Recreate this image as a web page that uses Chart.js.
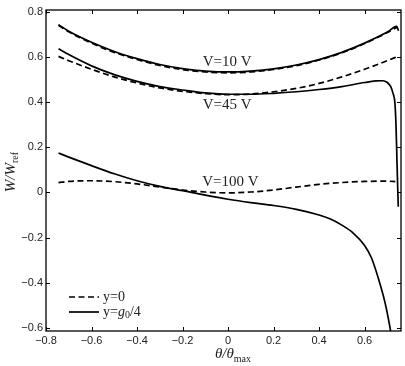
<!DOCTYPE html>
<html>
<head>
<meta charset="utf-8">
<script src="https://cdn.jsdelivr.net/npm/chart.js@4/dist/chart.umd.min.js"></script>
<style>
  html, body { margin: 0; padding: 0; background: #fff; }
  #wrap { width: 405px; height: 366px; }
</style>
</head>
<body>
<div id="wrap"><canvas id="myChart" width="405" height="366"></canvas></div>
<script>
// tick labels
const xTicks = [-0.8, -0.6, -0.4, -0.2, 0, 0.2, 0.4, 0.6];
const yTicks = [-0.6, -0.4, -0.2, 0, 0.2, 0.4, 0.6, 0.8];

// V = 10 V
const v10DashX = [-0.745, -0.7, -0.6, -0.5, -0.4, -0.3, -0.2, -0.1, 0, 0.1, 0.2, 0.3, 0.4, 0.5, 0.6, 0.7, 0.745];
const v10DashY = [0.742, 0.713, 0.663, 0.622, 0.590, 0.564, 0.545, 0.535, 0.531, 0.535, 0.546, 0.563, 0.588, 0.620, 0.661, 0.710, 0.735];
const v10SolidX = [-0.745, -0.7, -0.6, -0.5, -0.4, -0.3, -0.2, -0.1, 0, 0.1, 0.2, 0.3, 0.4, 0.5, 0.6, 0.7, 0.741, 0.749];
const v10SolidY = [0.745, 0.716, 0.667, 0.626, 0.594, 0.568, 0.550, 0.539, 0.535, 0.539, 0.549, 0.566, 0.590, 0.622, 0.663, 0.712, 0.737, 0.718];

// V = 45 V
const v45DashX = [-0.745, -0.7, -0.6, -0.5, -0.4, -0.3, -0.2, -0.1, 0, 0.1, 0.2, 0.3, 0.4, 0.5, 0.6, 0.7, 0.745];
const v45DashY = [0.604, 0.585, 0.547, 0.513, 0.486, 0.464, 0.449, 0.439, 0.434, 0.437, 0.447, 0.462, 0.484, 0.513, 0.547, 0.585, 0.604];
const v45SolidX = [-0.745, -0.7, -0.6, -0.5, -0.4, -0.3, -0.2, -0.1, 0, 0.1, 0.2, 0.3, 0.4, 0.5, 0.6, 0.65, 0.68, 0.70, 0.715, 0.725, 0.733, 0.738, 0.742, 0.745, 0.748];
const v45SolidY = [0.638, 0.612, 0.562, 0.523, 0.493, 0.470, 0.455, 0.442, 0.436, 0.436, 0.440, 0.447, 0.457, 0.470, 0.488, 0.495, 0.496, 0.488, 0.470, 0.440, 0.400, 0.300, 0.150, 0.040, -0.063];

// V = 100 V
const v100DashX = [-0.745, -0.7, -0.6, -0.5, -0.4, -0.3, -0.2, -0.1, 0, 0.1, 0.2, 0.3, 0.4, 0.5, 0.6, 0.7, 0.735];
const v100DashY = [0.044, 0.049, 0.052, 0.048, 0.038, 0.024, 0.011, 0.002, -0.002, 0.002, 0.011, 0.024, 0.036, 0.044, 0.049, 0.050, 0.048];
const v100SolidX = [-0.745, -0.7, -0.6, -0.5, -0.4, -0.3, -0.2, -0.1, 0, 0.1, 0.2, 0.3, 0.4, 0.45, 0.5, 0.55, 0.6, 0.63, 0.66, 0.69, 0.71, 0.72];
const v100SolidY = [0.175, 0.157, 0.119, 0.083, 0.052, 0.027, 0.008, -0.012, -0.030, -0.045, -0.058, -0.075, -0.100, -0.118, -0.145, -0.180, -0.235, -0.290, -0.380, -0.490, -0.590, -0.650];

const curveLabels = [
    { text: 'V=10 V', x: -0.004, y: 0.58 },
    { text: 'V=45 V', x: -0.004, y: 0.389 },
    { text: 'V=100 V', x: 0.01, y: 0.047 }
];

function pts(xs, ys) {
    return xs.map((x, i) => ({ x: x, y: ys[i] }));
}

const dash = [6, 3.5];
function line(label, xs, ys, dashed) {
    return {
        label: label,
        data: pts(xs, ys),
        borderColor: '#000',
        borderWidth: 1.7,
        borderDash: dashed ? dash : [],
        pointRadius: 0,
        fill: false,
        cubicInterpolationMode: 'monotone',
        order: dashed ? 1 : 0
    };
}

function fmt(v) {
    if (Math.abs(v) < 1e-9) return '0';
    return v.toFixed(1).replace('-', '\u2212');
}

const serif = '"Liberation Serif", "DejaVu Serif", serif';

const decor = {
    id: 'decor',
    afterDraw(chart) {
        const ctx = chart.ctx;
        const a = chart.chartArea;
        const xs = chart.scales.x, ys = chart.scales.y;
        ctx.save();
        ctx.strokeStyle = '#000';
        ctx.lineWidth = 1.3;
        ctx.strokeRect(a.left, a.top, a.right - a.left, a.bottom - a.top);
        ctx.lineWidth = 1;
        ctx.beginPath();
        xTicks.forEach(v => {
            const p = Math.round(xs.getPixelForValue(v)) + 0.5;
            ctx.moveTo(p, a.bottom); ctx.lineTo(p, a.bottom - 4);
            ctx.moveTo(p, a.top); ctx.lineTo(p, a.top + 4);
        });
        yTicks.forEach(v => {
            const p = Math.round(ys.getPixelForValue(v)) + 0.5;
            ctx.moveTo(a.left, p); ctx.lineTo(a.left + 4, p);
            ctx.moveTo(a.right, p); ctx.lineTo(a.right - 4, p);
        });
        ctx.stroke();

        // curve labels
        ctx.fillStyle = '#222';
        ctx.font = '15px ' + serif;
        ctx.textAlign = 'center';
        ctx.textBaseline = 'middle';
        curveLabels.forEach(l => {
            ctx.fillText(l.text, xs.getPixelForValue(l.x), ys.getPixelForValue(l.y));
        });

        // legend
        ctx.textAlign = 'left';
        ctx.textBaseline = 'alphabetic';
        const lx = a.left + 23, ly1 = 297, ly2 = 312;
        ctx.lineWidth = 1.7;
        ctx.setLineDash(dash);
        ctx.beginPath(); ctx.moveTo(lx, ly1); ctx.lineTo(lx + 30, ly1); ctx.stroke();
        ctx.setLineDash([]);
        ctx.beginPath(); ctx.moveTo(lx, ly2); ctx.lineTo(lx + 30, ly2); ctx.stroke();
        ctx.font = '14px ' + serif;
        ctx.fillText('y=0', lx + 34, ly1 + 4);
        let tx = lx + 34;
        ctx.fillText('y=', tx, ly2 + 4);
        tx += ctx.measureText('y=').width;
        ctx.font = 'italic 14px ' + serif;
        ctx.fillText('g', tx, ly2 + 4);
        tx += ctx.measureText('g').width;
        ctx.font = '10px ' + serif;
        ctx.fillText('0', tx, ly2 + 6);
        tx += ctx.measureText('0').width;
        ctx.font = '14px ' + serif;
        ctx.fillText('/4', tx, ly2 + 4);

        // x title
        ctx.font = 'italic 15px ' + serif;
        const t1 = '\u03b8/\u03b8';
        ctx.font = '10px ' + serif;
        const w2 = ctx.measureText('max').width;
        ctx.font = 'italic 15px ' + serif;
        const w1 = ctx.measureText(t1).width;
        let x0 = 233 - (w1 + w2) / 2;
        ctx.fillText(t1, x0, 358);
        ctx.font = '10px ' + serif;
        ctx.fillText('max', x0 + w1, 362);

        // y title
        ctx.save();
        ctx.translate(15, 172);
        ctx.rotate(-Math.PI / 2);
        ctx.font = 'italic 15px ' + serif;
        const u1 = 'W/W';
        const uw1 = ctx.measureText(u1).width;
        ctx.font = '10px ' + serif;
        const uw2 = ctx.measureText('ref').width;
        const y0 = -(uw1 + uw2) / 2;
        ctx.font = 'italic 15px ' + serif;
        ctx.fillText(u1, y0, 0);
        ctx.font = '10px ' + serif;
        ctx.fillText('ref', y0 + uw1, 3);
        ctx.restore();

        ctx.restore();
    }
};

new Chart(document.getElementById('myChart'), {
    type: 'line',
    data: {
        datasets: [
            line('V=10 dashed', v10DashX, v10DashY, true),
            line('V=45 dashed', v45DashX, v45DashY, true),
            line('V=100 dashed', v100DashX, v100DashY, true),
            line('V=10 solid', v10SolidX, v10SolidY, false),
            line('V=45 solid', v45SolidX, v45SolidY, false),
            line('V=100 solid', v100SolidX, v100SolidY, false)
        ]
    },
    options: {
        responsive: false,
        animation: false,
        layout: { padding: { top: 10, right: 4, left: 0, bottom: 0 } },
        plugins: { legend: { display: false }, tooltip: { enabled: false } },
        scales: {
            x: {
                type: 'linear',
                min: -0.8,
                max: 0.76,
                afterBuildTicks: s => { s.ticks = xTicks.map(v => ({ value: v })); },
                afterFit: s => { s.height = 35; },
                grid: { display: false, drawTicks: false },
                border: { display: false },
                ticks: {
                    callback: v => fmt(v),
                    color: '#222',
                    padding: 3,
                    maxRotation: 0,
                    font: { family: '"Liberation Sans", Arial, sans-serif', size: 11 }
                }
            },
            y: {
                min: -0.615,
                max: 0.81,
                afterBuildTicks: s => { s.ticks = yTicks.map(v => ({ value: v })); },
                afterFit: s => { s.width = 46; },
                grid: { display: false, drawTicks: false },
                border: { display: false },
                ticks: {
                    callback: v => fmt(v),
                    color: '#222',
                    padding: 3,
                    font: { family: '"Liberation Sans", Arial, sans-serif', size: 11 }
                }
            }
        }
    },
    plugins: [decor]
});
</script>
</body>
</html>
